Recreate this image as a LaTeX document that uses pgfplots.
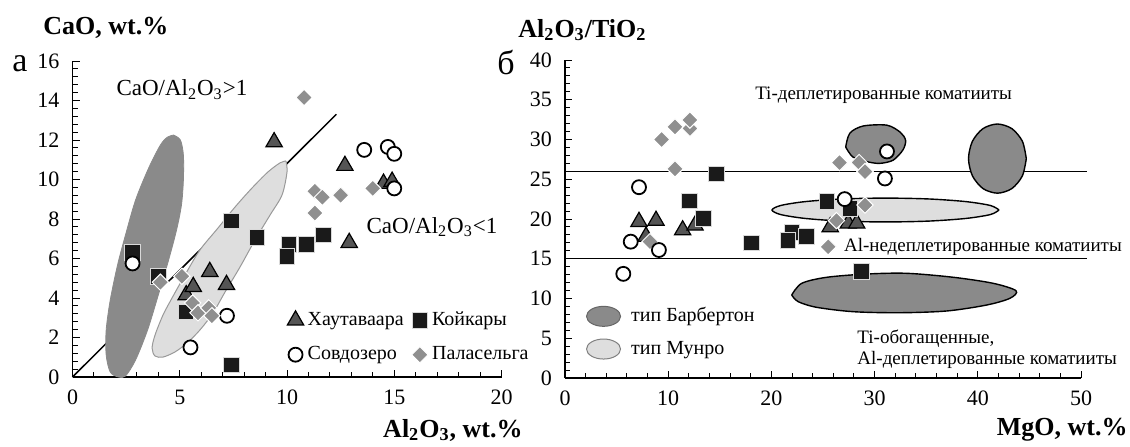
\documentclass[border=0pt]{standalone}
\usepackage{fontspec}
\setmainfont{Liberation Serif}
\usepackage{pgfplots}
\pgfplotsset{compat=1.18}
\definecolor{darkfield}{HTML}{8A8A8A}
\definecolor{lightfield}{HTML}{DEDEDE}
\definecolor{trif}{HTML}{555555}
\definecolor{sqf}{HTML}{1A1A1A}
\definecolor{diaf}{HTML}{8F8F8F}
\pgfplotsset{
  myaxis/.style={
    scale only axis,
    axis x line*=bottom, axis y line*=left,
    axis line style={-, line width=0.6pt},
    tick align=inside,
    major tick length=3.5pt, minor tick length=2.5pt,
    tick style={black, line width=0.5pt},
    /pgf/number format/assume math mode=true,
    tick label style={font=\fontsize{11}{13}\selectfont},
    xticklabel style={yshift=-3pt},
    yticklabel style={xshift=-3pt},
    clip=false,
  },
  tri/.style={only marks, mark=triangle*, mark size=4.7pt, mark options={fill=trif, draw=black, line width=0.6pt}},
  sq/.style={only marks, mark=square*, mark size=3.9pt, mark options={fill=sqf, draw=white!85!black, line width=0.5pt}},
  circ/.style={only marks, mark=*, mark size=3.5pt, mark options={fill=white, draw=black, line width=0.9pt}},
  dia/.style={only marks, mark=square*, mark size=2.9pt, mark options={rotate=45, fill=diaf, draw=white, line width=0.5pt}},
}
\begin{document}
\begin{tikzpicture}
\useasboundingbox (0,0) rectangle (565pt,223pt);
% ---------------- panel a ----------------
\begin{axis}[myaxis, at={(36.25pt,34.5pt)}, anchor=south west,
  width=214.5pt, height=158pt,
  xmin=0, xmax=20, ymin=0, ymax=16,
  xtick={0,5,...,20}, minor x tick num=4,
  ytick={0,2,...,16}, minor y tick num=4,
  legend columns=2, legend cell align=left,
  legend style={draw=none, fill=none, at={(0.5,0.22)}, anchor=north west,
    font=\fontsize{10}{12}\selectfont, inner sep=0pt, row sep=5pt,
    /tikz/every even column/.append style={column sep=2pt}},
]
\addplot[black, line width=0.75pt, forget plot] coordinates {(0,0) (12.3,13.3)};
\addplot[smooth, fill=darkfield, draw=darkfield, forget plot] coordinates {
(4.71,12.25) (5.03,12.0) (5.17,11.24) (5.17,9.97) (5.08,8.71) (4.85,7.44) (4.48,5.92) (4.0,4.15) (3.5,2.38) (2.94,0.86) (2.47,0.05) (2.14,0.0) (1.76,0.25) (1.57,1.11) (1.57,2.38) (1.76,3.9) (2.1,5.67) (2.47,7.19) (2.94,8.96) (3.55,10.58) (4.1,11.75) (4.43,12.15) (4.71,12.25)};
\addplot[smooth, fill=lightfield, draw=black!40, line width=0.5pt, forget plot] coordinates {
(9.95,10.94) (10.0,10.38) (9.77,9.22) (9.21,8.2) (8.51,6.94) (7.81,5.57) (7.11,4.3) (6.55,3.24) (5.94,2.38) (5.34,1.72) (4.78,1.27) (4.22,1.01) (3.85,1.06) (3.71,1.47) (3.85,2.13) (4.22,3.14) (4.64,4.0) (5.24,5.16) (5.94,6.43) (6.78,7.54) (7.58,8.61) (8.37,9.57) (9.11,10.38) (9.67,10.84) (9.95,10.94)};
\addplot[tri] coordinates {(5.3,4.15) (9.4,11.9) (12.7,10.7) (14.5,9.8) (14.9,9.9) (12.9,6.8) (6.4,5.33) (5.63,4.57) (7.18,4.67)};
\addlegendentry{Хаутаваара}
\addplot[sq] coordinates {(2.8,6.3) (4.0,5.1) (5.3,3.3) (7.4,7.9) (7.4,0.6) (8.6,7.05) (10.1,6.7) (10.0,6.1) (10.9,6.7) (11.7,7.2)};
\addlegendentry{Койкары}
\addplot[circ] coordinates {(2.8,5.75) (5.5,1.5) (7.2,3.1) (13.6,11.5) (14.7,11.65) (15.0,11.3) (15.0,9.55)};
\addlegendentry{Совдозеро}
\addplot[dia] coordinates {(10.8,14.15) (11.3,9.4) (11.65,9.1) (12.5,9.2) (11.3,8.3) (14.0,9.55) (4.1,4.8) (5.1,5.1) (5.6,3.75) (5.85,3.25) (6.35,3.5) (6.5,3.1)};
\addlegendentry{Паласельга}
\node[font=\fontsize{11.5}{13}\selectfont] at (axis cs:5.1,14.55) {CaO/Al\textsubscript{2}O\textsubscript{3}>1};
\node[font=\fontsize{11.5}{13}\selectfont] at (axis cs:16.76,7.6) {CaO/Al\textsubscript{2}O\textsubscript{3}<1};
\end{axis}
% ---------------- panel b ----------------
\begin{axis}[myaxis, at={(282.5pt,34pt)}, anchor=south west,
  width=258pt, height=159pt,
  xmin=0, xmax=50, ymin=0, ymax=40,
  xtick={0,10,...,50}, minor x tick num=4,
  ytick={0,5,...,40}, minor y tick num=4,
  legend cell align=left,
  legend style={draw=none, fill=none, at={(0.04,0.235)}, anchor=north west,
    font=\fontsize{10}{12}\selectfont, inner sep=0pt, row sep=4pt},
]
\addplot[black, line width=0.7pt, forget plot] coordinates {(0.3,26) (50.6,26)};
\addplot[black, line width=0.7pt, forget plot] coordinates {(0.3,15) (50.6,15)};
\addplot[smooth, fill=darkfield, draw=black, line width=0.7pt, legend image code/.code={\draw[fill=darkfield, draw=black!60, line width=0.5pt] (8.5pt,0pt) ellipse [x radius=8.5pt, y radius=5pt]; \path (20pt,0pt);}] coordinates {
(27.2,29.06) (27.6,30.8) (28.9,31.7) (31.2,31.8) (32.5,30.9) (33.0,29.9) (32.75,28.7) (31.8,27.4) (30.5,27.0) (29.3,27.2) (27.9,27.8) (27.2,29.06)};
\addlegendentry{тип Барбертон}
\addplot[smooth, fill=lightfield, draw=black, line width=0.7pt, legend image code/.code={\draw[fill=lightfield, draw=black!50, line width=0.5pt] (8.5pt,0pt) ellipse [x radius=8.5pt, y radius=5pt]; \path (20pt,0pt);}] coordinates {
(42.06,21.13) (41.22,21.70) (38.84,22.19) (35.27,22.52) (31.06,22.63) (26.85,22.52) (23.28,22.19) (20.90,21.70) (20.06,21.13) (20.90,20.56) (23.28,20.07) (26.85,19.74) (31.06,19.63) (35.27,19.74) (38.84,20.07) (41.22,20.56) (42.06,21.13)};
\addlegendentry{тип Мунро}
\addplot[smooth, fill=darkfield, draw=black, line width=0.7pt, forget plot] coordinates {
(44.7,27.6) (44.32,29.78) (43.3,31.37) (41.9,31.95) (40.5,31.37) (39.48,29.78) (39.1,27.6) (39.48,25.43) (40.5,23.83) (41.9,23.25) (43.3,23.83) (44.32,25.43) (44.7,27.6)};
\addplot[smooth, fill=darkfield, draw=black, line width=0.7pt, forget plot] coordinates {
(21.97,10.44) (22.94,11.91) (25.36,12.67) (29.23,13.08) (33.11,13.17) (37.63,12.67) (41.5,11.91) (43.7,10.98) (43.12,10.03) (40.86,9.18) (36.99,8.43) (32.46,8.21) (27.94,8.34) (24.39,8.89) (22.6,9.6) (21.97,10.44)};
\addplot[tri, forget plot] coordinates {(7.85,17.8) (7.17,19.66) (8.82,19.8) (11.4,18.6) (12.6,19.2) (25.7,19.0) (27.45,19.45) (28.27,19.45)};
\addplot[sq, forget plot] coordinates {(14.7,25.66) (12.05,22.26) (13.4,20.04) (18.1,17.0) (22.0,18.3) (21.6,17.3) (23.4,17.8) (25.4,22.2) (27.6,21.35) (28.75,13.37)};
\addplot[dia, forget plot] coordinates {(8.24,17.15)};
\addplot[circ, forget plot] coordinates {(7.17,24.0) (6.37,17.15) (9.1,16.1) (5.65,13.1) (31.2,28.5) (31.0,25.1) (27.1,22.5)};
\addplot[dia, forget plot] coordinates {(9.37,30.0) (10.66,31.6) (12.1,31.4) (12.1,32.45) (10.66,26.3) (26.6,27.1) (28.5,27.1) (29.07,25.96) (29.07,21.76) (26.3,19.8) (25.5,16.5)};
\node[anchor=west, inner sep=0pt, font=\fontsize{9.5}{11}\selectfont] at (axis cs:18.4,35.6) {Ti-деплетированные коматииты};
\node[anchor=west, inner sep=0pt, font=\fontsize{9.5}{11}\selectfont] at (axis cs:27.0,16.5) {Al-недеплетированные коматииты};
\node[anchor=west, inner sep=0pt, font=\fontsize{9.5}{11}\selectfont] at (axis cs:28.3,5.0) {Ti-обогащенные,};
\node[anchor=west, inner sep=0pt, font=\fontsize{9.5}{11}\selectfont] at (axis cs:28.3,2.26) {Al-деплетированные коматииты};
\end{axis}
% ---------------- labels ----------------
\node[anchor=west, inner sep=0pt, font=\fontsize{13}{15}\selectfont\bfseries] at (21.5pt,209pt) {CaO, wt.\%};
\node[inner sep=0pt, font=\fontsize{17}{19}\selectfont] at (10pt,191pt) {а};
\node[anchor=east, inner sep=0pt, font=\fontsize{13}{15}\selectfont\bfseries] at (261.5pt,8pt) {Al\textsubscript{2}O\textsubscript{3}, wt.\%};
\node[anchor=west, inner sep=0pt, font=\fontsize{13}{15}\selectfont\bfseries] at (259pt,208pt) {Al\textsubscript{2}O\textsubscript{3}/TiO\textsubscript{2}};
\node[inner sep=0pt, font=\fontsize{17}{19}\selectfont] at (253pt,192pt) {б};
\node[anchor=east, inner sep=0pt, font=\fontsize{13}{15}\selectfont\bfseries] at (564pt,8pt) {MgO, wt.\%};
\end{tikzpicture}
\end{document}
